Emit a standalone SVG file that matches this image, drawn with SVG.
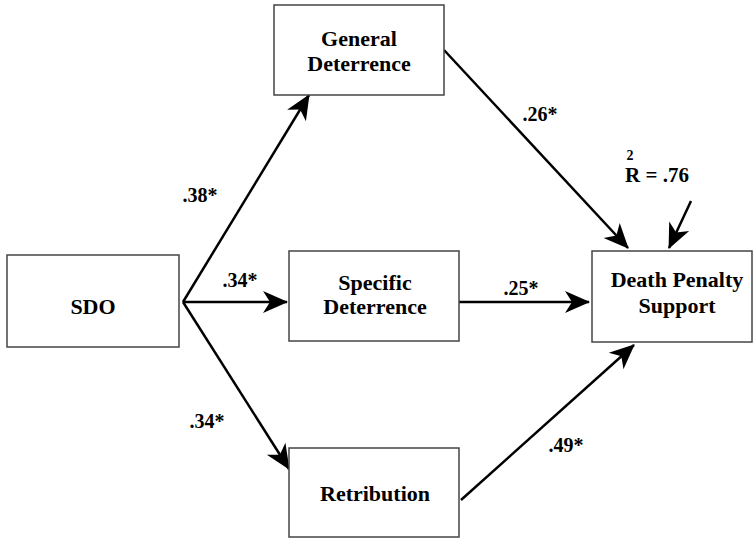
<svg xmlns="http://www.w3.org/2000/svg" width="755" height="539" viewBox="0 0 755 539">
<defs>
<style>
.box{fill:#fff;stroke:#444;stroke-width:1.5}
text{font-family:"Liberation Serif","DejaVu Serif",serif;font-weight:bold;fill:#000;text-anchor:middle}
.lbl{font-size:22px}
.coef{font-size:20px}
.arr{stroke:#000;stroke-width:2.5;fill:none;marker-end:url(#ah)}
</style>
<marker id="ah" markerUnits="userSpaceOnUse" viewBox="-26 -13 28 26" refX="0" refY="0" markerWidth="28" markerHeight="26" orient="auto">
<path d="M1,0 L-24,-11 L-17,0 L-24,11 Z" fill="#000"/>
</marker>
</defs>
<rect width="755" height="539" fill="#fff"/>
<g id="connectors">
<line class="arr" x1="183" y1="302" x2="309" y2="95"/>
<line class="arr" x1="183" y1="302" x2="287" y2="302"/>
<line class="arr" x1="183" y1="302" x2="289" y2="469"/>
<line class="arr" x1="444" y1="50" x2="628" y2="248"/>
<line class="arr" x1="459" y1="302" x2="589" y2="302"/>
<line class="arr" x1="461" y1="500" x2="634" y2="345"/>
<line class="arr" x1="691" y1="201" x2="669" y2="248"/>
</g>
<g id="sdo"><rect class="box" x="7" y="255" width="172" height="92"/><text class="lbl" x="93" y="314">SDO</text></g>
<g id="general"><rect class="box" x="274" y="5" width="170" height="90"/><text class="lbl" x="359" y="46">General</text><text class="lbl" x="359" y="71">Deterrence</text></g>
<g id="specific"><rect class="box" x="289" y="251" width="170" height="90"/><text class="lbl" x="375" y="290">Specific</text><text class="lbl" x="375" y="314">Deterrence</text></g>
<g id="retribution"><rect class="box" x="289" y="448" width="170" height="89"/><text class="lbl" x="375" y="501">Retribution</text></g>
<g id="dps"><rect class="box" x="592" y="251" width="160" height="91"/><text class="lbl" x="677" y="287">Death Penalty</text><text class="lbl" x="677" y="313">Support</text></g>
<g id="labels">
<text class="coef" x="200" y="202">.38*</text>
<text class="coef" x="240" y="287">.34*</text>
<text class="coef" x="207" y="428">.34*</text>
<text class="coef" x="540" y="121">.26*</text>
<text class="coef" x="521" y="295">.25*</text>
<text class="coef" x="566" y="452">.49*</text>
<text class="coef" x="657" y="182" style="font-size:21px">R = .76</text>
<text class="coef" x="630" y="160" style="font-size:14px">2</text>
</g>
</svg>
